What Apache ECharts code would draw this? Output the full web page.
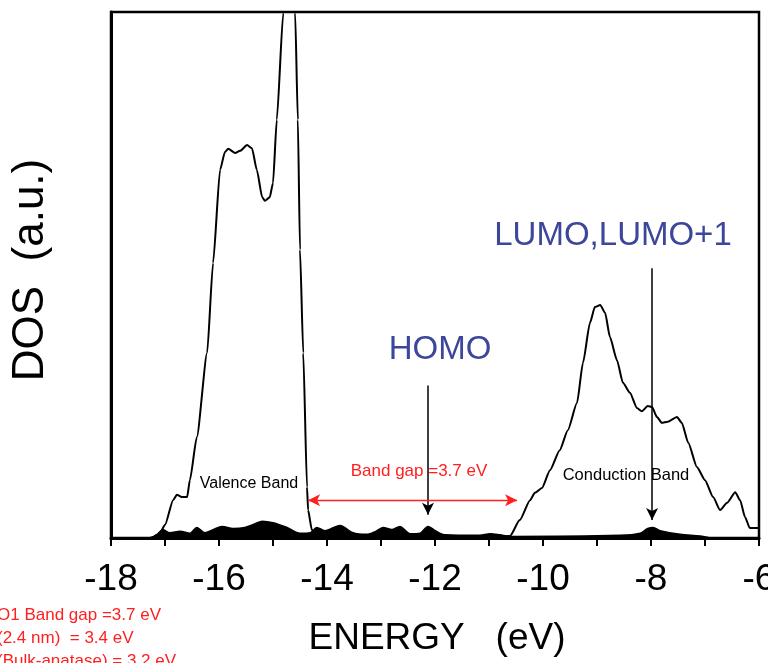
<!DOCTYPE html>
<html>
<head>
<meta charset="utf-8">
<style>
  html, body { margin: 0; padding: 0; background: #fff; }
  #chart { width: 768px; height: 663px; }
</style>
<script src="https://cdn.jsdelivr.net/npm/echarts@6/dist/echarts.min.js"></script>
</head>
<body>
<div id="chart"></div>
<script>
// energy axis (eV)
var xMin = -18, xMax = -6;

// total DOS, valence band [E, DOS]
var valence = [
    [-17.2, 0.3], [-17.15, 0.6], [-17.09, 1.0], [-17.0, 2.5], [-16.85, 7.2], [-16.78, 8.2],
    [-16.69, 7.8], [-16.59, 7.8], [-16.54, 11.0], [-16.41, 19.2], [-16.22, 35.2], [-16.11, 52.3],
    [-15.98, 70.0], [-15.89, 73.4], [-15.83, 74.0], [-15.70, 73.2], [-15.61, 73.6], [-15.48, 74.7],
    [-15.39, 74.1], [-15.30, 70.0], [-15.20, 64.8], [-15.15, 64.1], [-15.06, 64.8], [-15.0, 67.5],
    [-14.93, 79.5], [-14.81, 99.8], [-14.70, 112], [-14.59, 99.8], [-14.54, 79.5], [-14.50, 54.8],
    [-14.44, 35.2], [-14.37, 9.7], [-14.35, 5.3], [-14.28, 1.5], [-14.20, 0.6]
];
// gap region
var gap = [[-14.0, 0.3], [-11.0, 0.3]];
// total DOS, conduction band
var conduction = [
    [-10.8, 0.3], [-10.61, 0.4], [-10.43, 3.4], [-10.24, 7.2], [-10.15, 8.6], [-10.02, 9.5],
    [-9.87, 12.9], [-9.69, 16.7], [-9.54, 20.5], [-9.37, 25.7], [-9.26, 33.3], [-9.13, 40.9],
    [-9.04, 43.9], [-8.94, 44.3], [-8.85, 42.8], [-8.76, 38.2], [-8.63, 33.8], [-8.52, 29.5],
    [-8.39, 27.6], [-8.26, 24.7], [-8.17, 24.1], [-8.06, 25.1], [-7.98, 24.9], [-7.89, 23.0],
    [-7.80, 21.9], [-7.69, 22.1], [-7.52, 23.0], [-7.43, 21.9], [-7.31, 18.1], [-7.15, 13.5],
    [-7.0, 11.0], [-6.85, 7.8], [-6.72, 5.3], [-6.59, 6.7], [-6.44, 8.7], [-6.35, 7.2],
    [-6.26, 4.0], [-6.17, 1.9], [-6.0, 1.9]
];
// small filled (projected) DOS along the baseline
var pdos = [
    [-17.3, 0], [-17.15, 0.6], [-17.04, 1.6], [-16.91, 1.0], [-16.72, 1.3], [-16.54, 0.9],
    [-16.41, 2.0], [-16.26, 1.0], [-16.11, 1.6], [-15.94, 2.2], [-15.74, 1.8], [-15.52, 2.0],
    [-15.33, 2.7], [-15.20, 3.2], [-15.00, 2.9], [-14.74, 2.0], [-14.50, 0.9], [-14.31, 1.0],
    [-14.19, 2.0], [-14.04, 1.4], [-13.76, 2.4], [-13.52, 1.0], [-13.26, 0.7], [-13.11, 1.2],
    [-12.96, 2.0], [-12.80, 1.6], [-12.65, 2.2], [-12.46, 0.8], [-12.28, 0.9], [-12.13, 2.2],
    [-11.98, 1.3], [-11.81, 0.6], [-11.17, 0.5], [-10.98, 0.8], [-10.80, 0.6], [-10.6, 0.3],
    [-8.57, 0.5], [-8.20, 0.9], [-8.06, 1.8], [-7.96, 2.0], [-7.83, 1.4], [-7.46, 0.7],
    [-7.09, 0.4], [-6.9, 0]
];

// annotation arrows [E, from DOS, to DOS] / [from E, to E, DOS]
var homoArrow = [-12.13, 29, 4.4];
var lumoArrow = [-7.98, 51.3, 3.4];
var gapArrow = [-14.35, -10.48, 7.2];

var notes = [
    'O1 Band gap =3.7 eV',
    '(2.4 nm)  = 3.4 eV',
    '(Bulk-anatase) = 3.2 eV'
];

var red = '#ff1f1f';
var blue = '#3c469a';

var myChart = echarts.init(document.getElementById('chart'));

var option = {
    animation: false,
    grid: {
        left: 111, right: 9, top: 12, bottom: 125,
        outerBoundsMode: 'none',
        containLabel: false,
        show: true, borderColor: '#000', borderWidth: 2.5
    },
    xAxis: {
        type: 'value', min: xMin, max: xMax, interval: 1,
        axisLine: { lineStyle: { color: '#000', width: 3 } },
        axisTick: { length: 8, lineStyle: { color: '#000', width: 2 } },
        splitLine: { show: false },
        axisLabel: {
            margin: 23, color: '#000', fontSize: 37, fontFamily: 'Liberation Sans',
            formatter: function (v) { return v % 2 === 0 ? String(v) : ''; }
        }
    },
    yAxis: {
        type: 'value', min: 0, max: 100,
        axisLine: { show: true, lineStyle: { color: '#000', width: 3 } },
        axisTick: { show: false },
        axisLabel: { show: false },
        splitLine: { show: false }
    },
    graphic: [
        {
            type: 'text', x: 31, y: 270, rotation: Math.PI / 2,
            style: { text: 'DOS  (a.u.)', font: '44px "Liberation Sans"', fill: '#000', align: 'center', verticalAlign: 'middle' }
        },
        {
            type: 'text', x: 437, y: 639,
            style: { text: 'ENERGY   (eV)', font: '37px "Liberation Sans"', fill: '#000', align: 'center', verticalAlign: 'middle' }
        },
        {
            type: 'text', x: 440, y: 350,
            style: { text: 'HOMO', font: '33px "Liberation Sans"', fill: blue, align: 'center', verticalAlign: 'middle' }
        },
        {
            type: 'text', x: 613, y: 236,
            style: { text: 'LUMO,LUMO+1', font: '33px "Liberation Sans"', fill: blue, align: 'center', verticalAlign: 'middle' }
        },
        {
            type: 'text', x: 249, y: 484,
            style: { text: 'Valence Band', font: '16px "Liberation Sans"', fill: '#000', align: 'center', verticalAlign: 'middle' }
        },
        {
            type: 'text', x: 626, y: 475,
            style: { text: 'Conduction Band', font: '16.5px "Liberation Sans"', fill: '#000', align: 'center', verticalAlign: 'middle' }
        },
        {
            type: 'text', x: 419, y: 471,
            style: { text: 'Band gap =3.7 eV', font: '17px "Liberation Sans"', fill: red, align: 'center', verticalAlign: 'middle' }
        },
        {
            type: 'text', x: -3, y: 604,
            style: { text: notes.join('\n'), font: '17px "Liberation Sans"', lineHeight: 23, fill: red, align: 'left', verticalAlign: 'top' }
        }
    ],
    series: [
        {
            type: 'line',
            data: pdos,
            smooth: 0.3,
            symbol: 'none',
            lineStyle: { color: '#000', width: 1.5 },
            areaStyle: { color: '#000', opacity: 1 },
            z: 3
        },
        {
            type: 'line',
            data: valence.concat(gap, conduction),
            smooth: 0.2,
            smoothMonotone: 'x',
            symbol: 'none',
            clip: true,
            lineStyle: { color: '#000', width: 2 },
            z: 4,
            markLine: {
                silent: true,
                animation: false,
                label: { show: false },
                symbol: ['none', 'arrow'],
                symbolSize: [9, 12],
                lineStyle: { color: '#000', width: 1.5, type: 'solid' },
                data: [
                    [{ coord: [homoArrow[0], homoArrow[1]] }, { coord: [homoArrow[0], homoArrow[2]] }],
                    [{ coord: [lumoArrow[0], lumoArrow[1]] }, { coord: [lumoArrow[0], lumoArrow[2]] }],
                    [
                        { coord: [gapArrow[0], gapArrow[2]], symbol: 'arrow', lineStyle: { color: red, width: 1.3 } },
                        { coord: [gapArrow[1], gapArrow[2]], symbol: 'arrow' }
                    ]
                ]
            }
        }
    ]
};

myChart.setOption(option);
</script>
</body>
</html>
